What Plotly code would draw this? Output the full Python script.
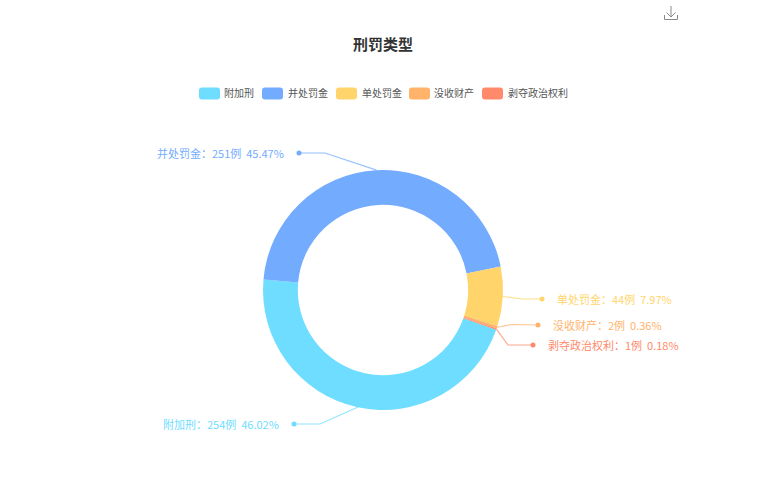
import math
import plotly.graph_objects as go

TITLE = "刑罚类型"
categories = ["附加刑", "并处罚金", "单处罚金", "没收财产", "剥夺政治权利"]
cases = [254, 251, 44, 2, 1]
percents = ["46.02%", "45.47%", "7.97%", "0.36%", "0.18%"]
colors = ["#6EDDFF", "#73ABFF", "#FFD56B", "#FFB36B", "#FF8A6B"]
label_colors = ["#6EDDFF", "#73ABFF", "#FFD56B", "#FFB36B", "#FF8A6B"]

W, H = 766, 500
CX, CY, R, HOLE = 383, 290, 120, 0.71
ROTATION = 109.4
FONT = "Noto Sans CJK SC, Microsoft YaHei, sans-serif"

# elbow and end of each leader line, in page pixels
elbows = [(320, 424), (325, 153), (522, 299), (512, 324.5), (508, 345)]
ends = [(294, 424), (299, 153), (542, 299), (538, 325), (533, 345)]
sides = ["right", "right", "left", "left", "left"]


def px(x):
    return x / W


def py(y):
    return 1 - y / H


def rgba(hex_color, a):
    r, g, b = (int(hex_color[i:i + 2], 16) for i in (1, 3, 5))
    return f"rgba({r},{g},{b},{a})"


total = sum(cases)
shapes, annotations = [], []
angle = ROTATION
for name, n, pct, col, tcol, elbow, end, side in zip(
    categories, cases, percents, colors, label_colors, elbows, ends, sides
):
    mid = math.radians(angle + n / total * 180)
    angle += n / total * 360
    sx, sy = CX + R * math.sin(mid), CY - R * math.cos(mid)
    path = "M{},{} L{},{} L{},{}".format(
        px(sx), py(sy), px(elbow[0]), py(elbow[1]), px(end[0]), py(end[1])
    )
    shapes.append(dict(type="path", xref="paper", yref="paper", path=path,
                       line=dict(color=rgba(col, 0.75), width=1.2)))
    shapes.append(dict(type="circle", xref="paper", yref="paper",
                       x0=px(end[0] - 2.5), x1=px(end[0] + 2.5),
                       y0=py(end[1] + 2.5), y1=py(end[1] - 2.5),
                       fillcolor=col, line=dict(width=0)))
    annotations.append(dict(
        xref="paper", yref="paper", showarrow=False,
        x=px(end[0] + (13 if side == "left" else -13)), y=py(end[1]),
        xanchor="left" if side == "left" else "right", yanchor="middle",
        text=f"{name}：{n}例\u00a0\u00a0{pct}",
        font=dict(family=FONT, size=11, color=tcol),
    ))

# legend row
legend_x = [199, 262, 336, 409, 482]
for name, col, x in zip(categories, colors, legend_x):
    x0, x1, y0, y1, r = x, x + 21, 87.5, 99.5, 3
    rr = (f"M{px(x0 + r)},{py(y0)} L{px(x1 - r)},{py(y0)} Q{px(x1)},{py(y0)} {px(x1)},{py(y0 + r)} "
          f"L{px(x1)},{py(y1 - r)} Q{px(x1)},{py(y1)} {px(x1 - r)},{py(y1)} "
          f"L{px(x0 + r)},{py(y1)} Q{px(x0)},{py(y1)} {px(x0)},{py(y1 - r)} "
          f"L{px(x0)},{py(y0 + r)} Q{px(x0)},{py(y0)} {px(x0 + r)},{py(y0)} Z")
    shapes.append(dict(type="path", xref="paper", yref="paper", path=rr,
                       fillcolor=col, line=dict(width=0)))
    annotations.append(dict(
        xref="paper", yref="paper", showarrow=False, x=px(x + 23.5), y=py(92.5),
        xanchor="left", yanchor="middle", text=name,
        font=dict(family=FONT, size=10, color="#555555"),
    ))

annotations.append(dict(
    xref="paper", yref="paper", showarrow=False, x=px(383), y=py(44),
    xanchor="center", yanchor="middle", text=f"<b>{TITLE}</b>",
    font=dict(family=FONT, size=15, color="#333333"),
))

# download icon
icon = [
    [(671, 6), (671, 17)],
    [(666.5, 12.5), (671, 17), (675.5, 12.5)],
    [(664.5, 15), (664.5, 19.5), (677.5, 19.5), (677.5, 15)],
]
for seg in icon:
    path = "M" + " L".join(f"{px(a)},{py(b)}" for a, b in seg)
    shapes.append(dict(type="path", xref="paper", yref="paper", path=path,
                       line=dict(color="#8a8a8a", width=1)))

fig = go.Figure(go.Pie(
    labels=categories, values=cases, sort=False, direction="clockwise",
    rotation=ROTATION, hole=HOLE, textinfo="none",
    marker=dict(colors=colors, line=dict(width=0)),
    domain=dict(x=[px(CX - R), px(CX + R)], y=[py(CY + R), py(CY - R)]),
))
fig.update_layout(
    width=W, height=H, margin=dict(l=0, r=0, t=0, b=0), showlegend=False,
    paper_bgcolor="white", shapes=shapes, annotations=annotations,
)
fig.write_html(
    "out.html",
    config=dict(displayModeBar=False),
    post_script="document.body.style.margin='0';document.body.style.overflow='hidden';",
)
